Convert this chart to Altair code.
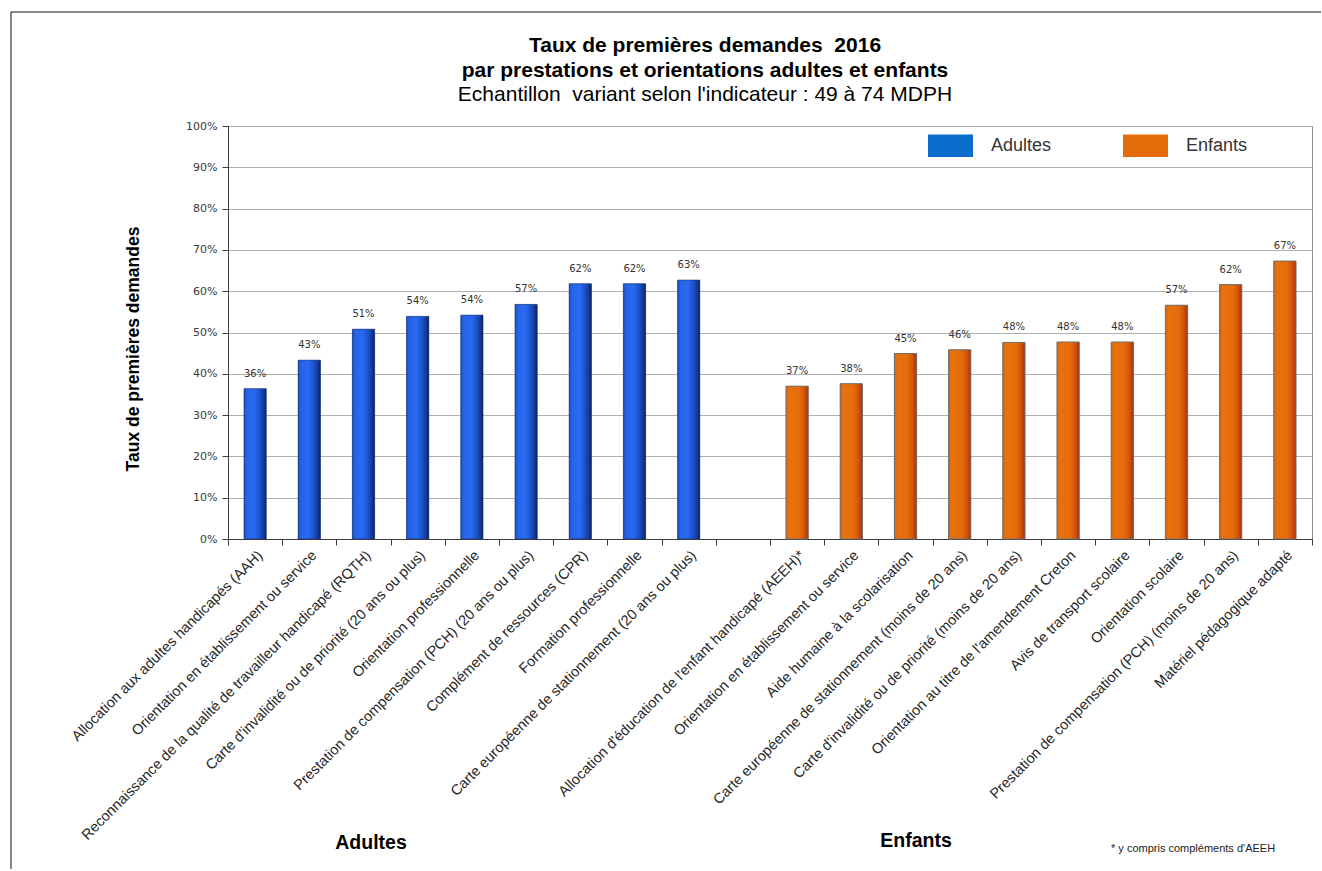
import json

import altair as alt
import pandas as pd

# Rates of first applications, 2016 (share of all applications)
group_names = ["Adultes", "Enfants"]
group_colors = ["#0b6dcc", "#e46c0a"]

adult_labels = [
    "Allocation aux adultes handicapés (AAH)",
    "Orientation en établissement ou service",
    "Reconnaissance de la qualité de travailleur handicapé (RQTH)",
    "Carte d'invalidité ou de priorité (20 ans ou plus)",
    "Orientation professionnelle",
    "Prestation de compensation (PCH) (20 ans ou plus)",
    "Complément de ressources (CPR)",
    "Formation professionnelle",
    "Carte européenne de stationnement (20 ans ou plus)",
]
adult_values = [0.364, 0.433, 0.508, 0.539, 0.542, 0.568, 0.618, 0.618, 0.627]

child_labels = [
    "Allocation d'éducation de l'enfant handicapé (AEEH)*",
    "Orientation en établissement ou service",
    "Aide humaine à la scolarisation",
    "Carte européenne de stationnement (moins de 20 ans)",
    "Carte d'invalidité ou de priorité (moins de 20 ans)",
    "Orientation au titre de l'amendement Creton",
    "Avis de transport scolaire",
    "Orientation scolaire",
    "Prestation de compensation (PCH) (moins de 20 ans)",
    "Matériel pédagogique adapté",
]
child_values = [0.370, 0.376, 0.449, 0.458, 0.476, 0.477, 0.477, 0.566, 0.616, 0.673]

y_ticks = [0.0, 0.1, 0.2, 0.3, 0.4, 0.5, 0.6, 0.7, 0.8, 0.9, 1.0]

# Non-breaking spaces keep the wide gaps of the heading visible in SVG
title_lines = [
    "Taux de premières demandes\u00a0 2016",
    "par prestations et orientations adultes et enfants",
    "Echantillon\u00a0 variant selon l'indicateur : 49 à 74 MDPH",
]
y_title = "Taux de premières demandes"
footnote = "* y compris compléments d'AEEH"

# One slot per category, with an empty slot separating the two groups
adult_keys = [f"A{i + 1}" for i in range(len(adult_labels))]
child_keys = [f"E{i + 1}" for i in range(len(child_labels))]
slot_keys = adult_keys + ["gap"] + child_keys

label_map = dict(zip(adult_keys, adult_labels))
label_map["gap"] = ""
label_map.update(zip(child_keys, child_labels))

df = pd.DataFrame({
    "key": adult_keys + child_keys,
    "label": adult_labels + child_labels,
    "group": [group_names[0]] * len(adult_keys) + [group_names[1]] * len(child_keys),
    "value": adult_values + child_values,
})
one = pd.DataFrame({"k": [0]})

FONT = "Liberation Sans"
BAR_W = alt.RelativeBandSize(0.41)

x_axis = alt.Axis(
    title=None,
    labelExpr=json.dumps(label_map, ensure_ascii=False) + "[datum.value]",
    labelAngle=-45,
    labelFont=FONT,
    labelFontSize=14.5,
    labelColor="#262626",
    labelLimit=600,
    labelOverlap=False,
    labelPadding=3,
    tickBand="extent",
    tickSize=6,
    tickColor="#3c3c3c",
    domainColor="#3c3c3c",
    grid=False,
)
y_axis = alt.Axis(
    values=y_ticks,
    format=".0%",
    title=None,
    grid=True,
    gridColor="#b0b0b0",
    domainColor="#3c3c3c",
    tickColor="#3c3c3c",
    tickSize=6,
    labelFont="DejaVu Sans",
    labelFontSize=11,
    labelColor="#3a3a3a",
    labelPadding=5,
)

base = alt.Chart(df).encode(
    x=alt.X("key:N", sort=slot_keys,
            scale=alt.Scale(domain=slot_keys, paddingInner=0, paddingOuter=0),
            axis=x_axis),
    y=alt.Y("value:Q", scale=alt.Scale(domain=[0, 1], nice=False), axis=y_axis),
)

legend = alt.Legend(
    title=None,
    orient="none",
    legendX=700,
    legendY=-3,
    direction="horizontal",
    symbolType="M-1,-0.5L1,-0.5L1,0.5L-1,0.5Z",
    symbolSize=2025,
    symbolStrokeWidth=0,
    symbolOpacity=1,
    labelFont=FONT,
    labelFontSize=18,
    labelColor="#333333",
    labelOffset=18,
    columnPadding=71,
    padding=0,
)

bars = base.mark_bar(width=BAR_W).encode(
    color=alt.Color("group:N",
                    scale=alt.Scale(domain=group_names, range=group_colors),
                    legend=legend)
)

blue_fill = alt.LinearGradient(
    gradient="linear", x1=0, y1=0, x2=1, y2=0,
    stops=[
        alt.GradientStop(offset=0, color="#1a4cc0"),
        alt.GradientStop(offset=0.12, color="#2563e6"),
        alt.GradientStop(offset=0.45, color="#2a6af2"),
        alt.GradientStop(offset=0.7, color="#1d52cc"),
        alt.GradientStop(offset=0.88, color="#143a94"),
        alt.GradientStop(offset=1, color="#0c2160"),
    ],
)
orange_fill = alt.LinearGradient(
    gradient="linear", x1=0, y1=0, x2=1, y2=0,
    stops=[
        alt.GradientStop(offset=0, color="#d9640c"),
        alt.GradientStop(offset=0.15, color="#e8720e"),
        alt.GradientStop(offset=0.6, color="#e56c0a"),
        alt.GradientStop(offset=0.82, color="#d4520a"),
        alt.GradientStop(offset=1, color="#a8300c"),
    ],
)

shade_adults = base.transform_filter(alt.datum.group == group_names[0]).mark_bar(
    width=BAR_W, fill=blue_fill, stroke="#173070", strokeWidth=0.6
)
shade_children = base.transform_filter(alt.datum.group == group_names[1]).mark_bar(
    width=BAR_W, fill=orange_fill, stroke="#6e6e6e", strokeWidth=1
)

values_text = base.mark_text(
    baseline="bottom", dy=-10, font="DejaVu Sans", fontSize=10, color="#333333"
).encode(text=alt.Text("value:Q", format=".0%"))

# Outer frame (left and top edges)
frame_left = alt.Chart(one).mark_rule(color="#111111", strokeWidth=1).encode(
    x=alt.value(-217), y=alt.value(-114), y2=alt.value(743)
)
frame_top = alt.Chart(one).mark_rule(color="#111111", strokeWidth=1).encode(
    x=alt.value(-217), x2=alt.value(1093), y=alt.value(-114)
)


def note(text, x, y, size, weight="normal", align="center", color="black", angle=0):
    return alt.Chart(one).mark_text(
        font=FONT, fontSize=size, fontWeight=weight, align=align,
        baseline="middle", color=color, angle=angle,
    ).encode(x=alt.value(x), y=alt.value(y), text=alt.value(text))


texts = [
    note(title_lines[0], 477, -80, 21, "bold"),
    note(title_lines[1], 477, -55, 21, "bold"),
    note(title_lines[2], 477, -31, 21),
    note(y_title, -94, 223, 17.5, "bold", angle=270),
    note(group_names[0], 143, 717, 19.5, "bold"),
    note(group_names[1], 688, 715, 19.5, "bold"),
    note(footnote, 883, 723, 11, align="left", color="#222222"),
]

chart = alt.layer(
    frame_left, frame_top, bars, shade_adults, shade_children, values_text, *texts
).properties(
    width=1084,
    height=413,
    padding={"left": 10, "top": 11, "right": 0, "bottom": 0},
    background="white",
).configure_view(
    stroke="#8c8c8c", strokeWidth=1
)

chart.save("out.html", embed_options={"renderer": "svg", "actions": False})
